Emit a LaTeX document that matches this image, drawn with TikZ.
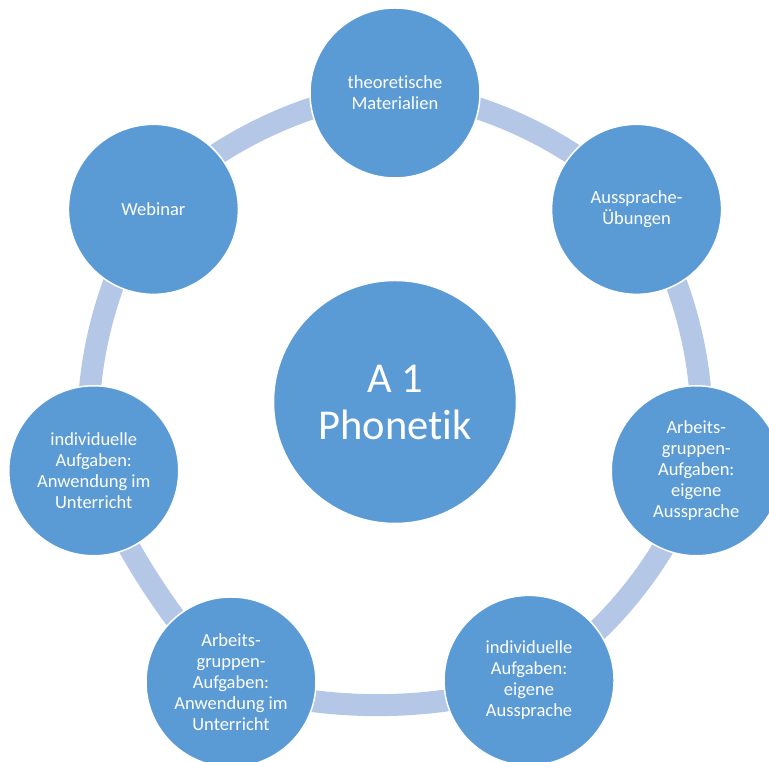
\documentclass[tikz,border=0pt]{standalone}
\usepackage{fontspec}
\setmainfont{Carlito}[Ligatures=NoCommon]
\usetikzlibrary{backgrounds}
\definecolor{ringblue}{HTML}{5B9BD5}
\definecolor{bandblue}{HTML}{B4C7E7}
\tikzset{
  mycircle/.style = {circle, fill=ringblue, draw=white, line width=1.5pt, minimum size=170pt, inner sep=0pt, align=center, text=white, font=\fontsize{18.5}{21}\selectfont},
  mycenter/.style = {mycircle, minimum size=243pt, font=\fontsize{42.5}{47}\selectfont},
  myband/.style = {draw=bandblue, line width=22pt},
}

\begin{document}
\begin{tikzpicture}[x=1pt,y=1pt]
\useasboundingbox (0,0) rectangle (769,762);
\clip (0,0) rectangle (769,762);
\begin{scope}[shift={(395,360)}]
\node (z) [mycenter] at (0,0) {A 1\\Phonetik};
\node (a) [mycircle] at (90:309) {theoretische\\Materialien};
\node (b) [mycircle] at (38.57:309) {Aussprache-\\Übungen};
\node (c) [mycircle] at (-12.86:309) {Arbeits-\\gruppen-\\Aufgaben:\\eigene\\Aussprache};
\node (d) [mycircle] at (-64.29:309) {individuelle\\Aufgaben:\\eigene\\Aussprache};
\node (e) [mycircle] at (-164,-280) {Arbeits-\\gruppen-\\Aufgaben:\\Anwendung im\\Unterricht};
\node (f) [mycircle] at (-167.14:309) {individuelle\\Aufgaben:\\Anwendung im\\Unterricht};
\node (g) [mycircle] at (141.43:309) {Webinar};
\end{scope}

% ring segments behind the circles
\begin{scope}[on background layer]
\foreach \u/\v/\b/\l in {a/b/25.7/0.75,b/c/25.7/0.75,c/d/25.7/0.75,d/e/20/0.8,e/f/15/0.7,f/g/25.7/0.75,g/a/25.7/0.75}{
  \draw[myband] (\u.center) to[bend left=\b, looseness=\l] (\v.center);
}
\end{scope}
\end{tikzpicture}
\end{document}
